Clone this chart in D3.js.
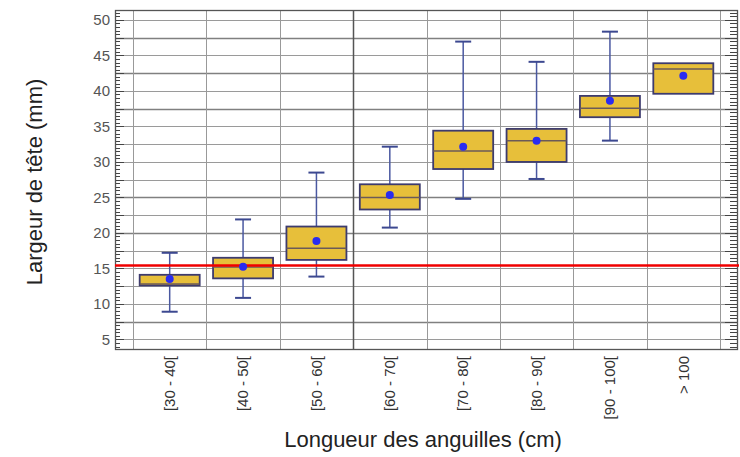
<!DOCTYPE html>
<html>
<head>
<meta charset="utf-8">
<script src="https://cdn.jsdelivr.net/npm/d3@7"></script>
<style>
  body { margin: 0; background: #fff; }
  text { font-family: "Liberation Sans", Arial, sans-serif; }
</style>
</head>
<body>
<div id="chart"></div>
<script>
// box plot values (mm)
var categories = ["[30 - 40[", "[40 - 50[", "[50 - 60[", "[60 - 70[", "[70 - 80[", "[80 - 90[", "[90 - 100[", "> 100"];
var whiskerLow  = [8.9, 10.85, 13.85, 20.75, 24.8, 27.6, 33.0, null];
var q1          = [12.6, 13.6, 16.2, 23.3, 29.0, 30.0, 36.3, 39.6];
var median      = [12.8, 15.2, 17.85, 25.0, 31.55, 33.0, 37.55, 43.1];
var q3          = [14.1, 16.5, 20.9, 26.85, 34.4, 34.65, 39.3, 43.9];
var whiskerHigh = [17.2, 21.9, 28.5, 32.15, 46.95, 44.1, 48.35, null];
var means       = [13.5, 15.25, 18.85, 25.35, 32.15, 33.0, 38.6, 42.15];
var yTicks = [5, 10, 15, 20, 25, 30, 35, 40, 45, 50];
var threshold = 15.4;

var svg = d3.select("#chart").append("svg").attr("width", 740).attr("height", 457);

// plot frame (window.top is reserved, so no "top" here)
var pLeft = 115, pRight = 737, pTop = 10, pBottom = 349;

var x = d3.scaleBand().domain(categories).range([133, 720]);
var y = d3.scaleLinear().domain([3.65, 51.4]).range([pBottom, pTop]);

function py(d) { return Math.round(y(d)) + 0.5; }

// horizontal grid every 2.5
var gridVals = d3.range(5, 50.01, 2.5);
var darker = [7.5, 20, 25, 37.5, 42.5, 47.5];
svg.append("g").selectAll("line").data(gridVals).enter().append("line")
  .attr("x1", pLeft).attr("x2", pRight)
  .attr("y1", py).attr("y2", py)
  .attr("stroke", function(d) { return darker.indexOf(d) >= 0 ? "#808080" : "#9a9a9a"; })
  .attr("stroke-width", function(d) { return darker.indexOf(d) >= 0 ? 1.3 : 1; });

// vertical grid at category boundaries
var bounds = categories.map(function(c) { return x(c); }).concat([x.range()[1]]);
svg.append("g").selectAll("line").data(bounds).enter().append("line")
  .attr("x1", function(d) { return Math.round(d) + 0.5; })
  .attr("x2", function(d) { return Math.round(d) + 0.5; })
  .attr("y1", pTop).attr("y2", pBottom)
  .attr("stroke", function(d, i) { return i == 3 ? "#555" : "#999"; })
  .attr("stroke-width", function(d, i) { return i == 3 ? 1.5 : 1; });

// ruler ticks on both sides
var minor = d3.range(4, 51.01, 0.5);
var ruler = svg.append("g").attr("stroke", "#444").attr("stroke-width", 1);
ruler.selectAll(".tl").data(minor).enter().append("line")
  .attr("x1", pLeft).attr("x2", function(d) { return pLeft + (d % 2.5 == 0 ? 9 : 5); })
  .attr("y1", py).attr("y2", py);
ruler.selectAll(".tr").data(minor).enter().append("line")
  .attr("x1", pRight).attr("x2", function(d) { return pRight - (d % 2.5 == 0 ? 12 : 7); })
  .attr("y1", py).attr("y2", py);

// frame
svg.append("rect")
  .attr("x", pLeft + 0.5).attr("y", pTop + 0.5)
  .attr("width", pRight - pLeft).attr("height", pBottom - pTop)
  .attr("fill", "none").attr("stroke", "#555").attr("stroke-width", 1.3);

// y tick labels
svg.append("g").selectAll("text").data(yTicks).enter().append("text")
  .attr("x", 110).attr("y", function(d) { return y(d); })
  .attr("dy", "0.36em")
  .attr("text-anchor", "end")
  .attr("font-size", 15).attr("fill", "#555")
  .text(function(d) { return d; });

// boxes
var bw = 60, cap = 16;
var boxes = svg.append("g").selectAll("g").data(categories).enter().append("g")
  .attr("transform", function(d) { return "translate(" + (x(d) + x.bandwidth() / 2) + ",0)"; });

boxes.each(function(d, i) {
  var g = d3.select(this);
  if (whiskerHigh[i] != null) {
    g.append("line").attr("x1", 0).attr("x2", 0)
      .attr("y1", y(q3[i])).attr("y2", y(whiskerHigh[i]))
      .attr("stroke", "#4a58a0").attr("stroke-width", 1.5);
    g.append("line").attr("x1", -cap / 2).attr("x2", cap / 2)
      .attr("y1", y(whiskerHigh[i])).attr("y2", y(whiskerHigh[i]))
      .attr("stroke", "#3c4890").attr("stroke-width", 2);
  }
  if (whiskerLow[i] != null) {
    g.append("line").attr("x1", 0).attr("x2", 0)
      .attr("y1", y(q1[i])).attr("y2", y(whiskerLow[i]))
      .attr("stroke", "#4a58a0").attr("stroke-width", 1.5);
    g.append("line").attr("x1", -cap / 2).attr("x2", cap / 2)
      .attr("y1", y(whiskerLow[i])).attr("y2", y(whiskerLow[i]))
      .attr("stroke", "#3c4890").attr("stroke-width", 2);
  }
  g.append("rect")
    .attr("x", -bw / 2).attr("y", y(q3[i]))
    .attr("width", bw).attr("height", y(q1[i]) - y(q3[i]))
    .attr("fill", "#e7bf3a").attr("stroke", "#3d3b6e").attr("stroke-width", 1.8);
  g.append("line").attr("x1", -bw / 2).attr("x2", bw / 2)
    .attr("y1", y(median[i])).attr("y2", y(median[i]))
    .attr("stroke", "#6b5a58").attr("stroke-width", 1.5);
});

// red threshold line
svg.append("line")
  .attr("x1", pLeft).attr("x2", pRight + 2)
  .attr("y1", y(threshold)).attr("y2", y(threshold))
  .attr("stroke", "#f00000").attr("stroke-width", 2.5);

// mean points
svg.append("g").selectAll("circle").data(means).enter().append("circle")
  .attr("cx", function(d, i) { return x(categories[i]) + x.bandwidth() / 2; })
  .attr("cy", function(d) { return y(d); })
  .attr("r", 4)
  .attr("fill", "#2a2cf0");

// x tick labels, rotated
svg.append("g").selectAll("text").data(categories).enter().append("text")
  .attr("transform", function(d) { return "translate(" + (x(d) + x.bandwidth() / 2) + ",356) rotate(-90)"; })
  .attr("dy", "0.35em")
  .attr("text-anchor", "end")
  .attr("font-size", 15).attr("fill", "#333")
  .text(function(d) { return d; });

// axis titles
svg.append("text")
  .attr("x", 423).attr("y", 447)
  .attr("text-anchor", "middle")
  .attr("font-size", 22).attr("fill", "#222")
  .text("Longueur des anguilles (cm)");

svg.append("text")
  .attr("transform", "translate(42,182) rotate(-90)")
  .attr("text-anchor", "middle")
  .attr("font-size", 22).attr("fill", "#222")
  .text("Largeur de tête (mm)");
</script>
</body>
</html>
